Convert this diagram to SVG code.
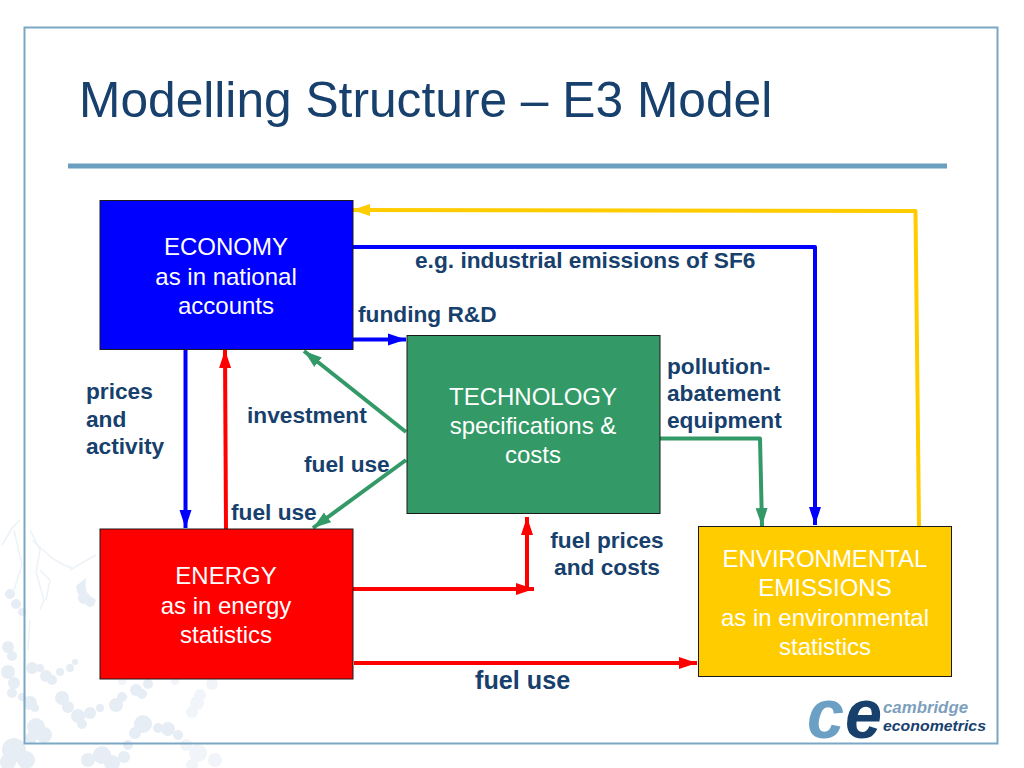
<svg xmlns="http://www.w3.org/2000/svg" width="1024" height="768" viewBox="0 0 1024 768">
<style>
.node{stroke:#1a1a1a;stroke-width:1}
.nt{font:24px "Liberation Sans",Arial,sans-serif;fill:#ffffff;text-anchor:middle}
.lb{font:bold 22.700px "Liberation Sans",Arial,sans-serif;fill:#17406d}
.c{fill:none;stroke-width:4;stroke-linejoin:round}
.wm{fill:#e6edf4}
.wf{fill:#f1f5f9}
.wl{fill:none;stroke:#edf2f7;stroke-width:1.500;stroke-linejoin:round}
</style>
<defs>
<marker id="ab" markerUnits="userSpaceOnUse" markerWidth="20" markerHeight="13" refX="18" refY="6.500" orient="auto"><path d="M0 0.500L18 6.500L0 12.500Z" fill="#0000ff"/></marker>
<marker id="ar" markerUnits="userSpaceOnUse" markerWidth="20" markerHeight="13" refX="18" refY="6.500" orient="auto"><path d="M0 0.500L18 6.500L0 12.500Z" fill="#ff0000"/></marker>
<marker id="ag" markerUnits="userSpaceOnUse" markerWidth="20" markerHeight="13" refX="18" refY="6.500" orient="auto"><path d="M0 0.500L18 6.500L0 12.500Z" fill="#339966"/></marker>
<marker id="ay" markerUnits="userSpaceOnUse" markerWidth="20" markerHeight="13" refX="18" refY="6.500" orient="auto"><path d="M0 0.500L18 6.500L0 12.500Z" fill="#ffcc00"/></marker>
</defs>
<rect width="1024" height="768" fill="#ffffff"/>
<g id="background">
<path class="wl" d="M2 545L12 528L20 520M14 530L22 565L14 590M30 530L40 550L36 572L44 600L40 610M32 540L52 558L64 565L72 568M40 570L50 580L46 600M70 570L96 555M30 620L28 650"/>
<g class="wf">
<circle cx="197" cy="703" r="7"/><circle cx="192" cy="712" r="6"/><circle cx="200" cy="695" r="6"/><circle cx="212" cy="684" r="6"/>
<circle cx="198" cy="753" r="9"/><circle cx="186" cy="745" r="6"/><circle cx="215" cy="760" r="7"/><circle cx="192" cy="765" r="6"/>
<circle cx="175" cy="681" r="4"/><circle cx="122" cy="681" r="4"/>
</g>
<g class="wm">
<circle cx="10" cy="594" r="5"/><circle cx="16" cy="604" r="5"/><circle cx="22" cy="612" r="4"/>
<path d="M76 586Q78 600 88 604Q94 606 96 600L90 596Q84 592 86 578Z"/>
<circle cx="84" cy="598" r="6"/><circle cx="90" cy="602" r="5"/>
<circle cx="8" cy="647" r="6"/><circle cx="12" cy="656" r="5"/><circle cx="8" cy="672" r="7"/><circle cx="14" cy="683" r="6"/><circle cx="12" cy="693" r="5"/><circle cx="22" cy="697" r="4"/>
<circle cx="32" cy="668" r="6"/><circle cx="40" cy="668" r="4"/><circle cx="46" cy="676" r="6"/><circle cx="52" cy="680" r="5"/><circle cx="60" cy="672" r="4"/><circle cx="70" cy="668" r="4"/><circle cx="75" cy="662" r="3"/>
<circle cx="30" cy="703" r="7"/><circle cx="35" cy="708" r="4"/>
<circle cx="62" cy="698" r="7"/><circle cx="68" cy="707" r="6"/><circle cx="78" cy="716" r="7"/><circle cx="82" cy="724" r="5"/><circle cx="90" cy="713" r="6"/><circle cx="100" cy="708" r="4"/>
<circle cx="116" cy="705" r="7"/><circle cx="122" cy="697" r="5"/><circle cx="136" cy="690" r="6"/><circle cx="142" cy="694" r="5"/><circle cx="148" cy="684" r="5"/>
<circle cx="36" cy="727" r="9"/><circle cx="44" cy="735" r="8"/><circle cx="31" cy="738" r="6"/>
<circle cx="14" cy="750" r="12"/><circle cx="26" cy="760" r="9"/><circle cx="8" cy="762" r="8"/>
<circle cx="88" cy="760" r="7"/><circle cx="102" cy="755" r="9"/><circle cx="112" cy="763" r="8"/><circle cx="124" cy="757" r="6"/><circle cx="128" cy="745" r="5"/>
<circle cx="143" cy="724" r="9"/><circle cx="135" cy="733" r="6"/><circle cx="158" cy="728" r="5"/><circle cx="168" cy="729" r="7"/><circle cx="178" cy="735" r="5"/>
</g>
</g>
<rect x="24.500" y="27.500" width="973" height="716" fill="none" stroke="#7ba7c4" stroke-width="2"/>
<text id="title" x="79" y="117" font-family="'Liberation Sans',Arial,sans-serif" font-size="49.700" fill="#17406d">Modelling Structure – E3 Model</text>
<rect x="68" y="163.500" width="879" height="5" fill="#6a9fc0"/>

<g id="connectors">
<path class="c" stroke="#ffcc00" marker-end="url(#ay)" d="M919 526L915.500 211L352 210"/>
<path class="c" stroke="#0000ff" marker-end="url(#ab)" d="M353 247H815V525"/>
<path class="c" stroke="#0000ff" marker-end="url(#ab)" d="M353 339.500H406"/>
<path class="c" stroke="#0000ff" marker-end="url(#ab)" d="M185.500 349V528"/>
<path class="c" stroke="#ff0000" marker-end="url(#ar)" d="M226 529L225 350"/>
<path class="c" stroke="#339966" marker-end="url(#ag)" d="M406 432L304 351"/>
<path class="c" stroke="#339966" marker-end="url(#ag)" d="M406 460L313 528"/>
<path class="c" stroke="#339966" marker-end="url(#ag)" d="M660 438.500H760L762 526"/>
<path class="c" stroke="#ff0000" marker-end="url(#ar)" d="M353 589H534"/>
<path class="c" stroke="#ff0000" marker-end="url(#ar)" d="M527 589V517"/>
<path class="c" stroke="#ff0000" marker-end="url(#ar)" d="M354 663H697"/>
</g>

<g id="economy"><rect class="node" x="100" y="200.500" width="253" height="149" fill="#0000ff"/>
<text class="nt" x="226" y="255">ECONOMY</text><text class="nt" x="226" y="285">as in national</text><text class="nt" x="226" y="314">accounts</text></g>
<g id="technology"><rect class="node" x="407" y="335.500" width="253" height="178" fill="#339966"/>
<text class="nt" x="533" y="405">TECHNOLOGY</text><text class="nt" x="533" y="434">specifications &amp;</text><text class="nt" x="533" y="463">costs</text></g>
<g id="energy"><rect class="node" x="100" y="529" width="253" height="150" fill="#ff0000"/>
<text class="nt" x="226" y="584">ENERGY</text><text class="nt" x="226" y="614">as in energy</text><text class="nt" x="226" y="643">statistics</text></g>
<g id="environment"><rect class="node" x="698.500" y="526.500" width="253" height="150" fill="#ffcc00"/>
<text class="nt" x="825" y="567">ENVIRONMENTAL</text><text class="nt" x="825" y="596">EMISSIONS</text><text class="nt" x="825" y="626">as in environmental</text><text class="nt" x="825" y="655">statistics</text></g>

<g id="labels">
<text class="lb" x="415" y="268">e.g. industrial emissions of SF6</text>
<text class="lb" x="358" y="322">funding R&amp;D</text>
<text class="lb" x="667" y="374">pollution-</text>
<text class="lb" x="667" y="401">abatement</text>
<text class="lb" x="667" y="428">equipment</text>
<text class="lb" x="86" y="399">prices</text>
<text class="lb" x="86" y="427">and</text>
<text class="lb" x="86" y="454">activity</text>
<text class="lb" x="247" y="423">investment</text>
<text class="lb" x="304" y="472">fuel use</text>
<text class="lb" x="231" y="520">fuel use</text>
<text class="lb" x="607" y="548" text-anchor="middle">fuel prices</text>
<text class="lb" x="607" y="575" text-anchor="middle">and costs</text>
<text class="lb" x="475" y="689" style="font-size:25.200px">fuel use</text>
</g>

<g id="logo" font-family="'Liberation Sans',Arial,sans-serif" font-style="italic" font-weight="bold">
<text x="807" y="738" font-size="70" fill="#6b9fc3" textLength="37" lengthAdjust="spacingAndGlyphs">c</text>
<text x="845" y="738" font-size="70" fill="#17406d" textLength="37" lengthAdjust="spacingAndGlyphs">e</text>
<text x="883" y="712.500" font-size="17" fill="#7d9fbd" textLength="85" lengthAdjust="spacingAndGlyphs">cambridge</text>
<text x="883" y="730.500" font-size="15.500" fill="#17406d" textLength="103" lengthAdjust="spacingAndGlyphs">econometrics</text>
</g>
</svg>
